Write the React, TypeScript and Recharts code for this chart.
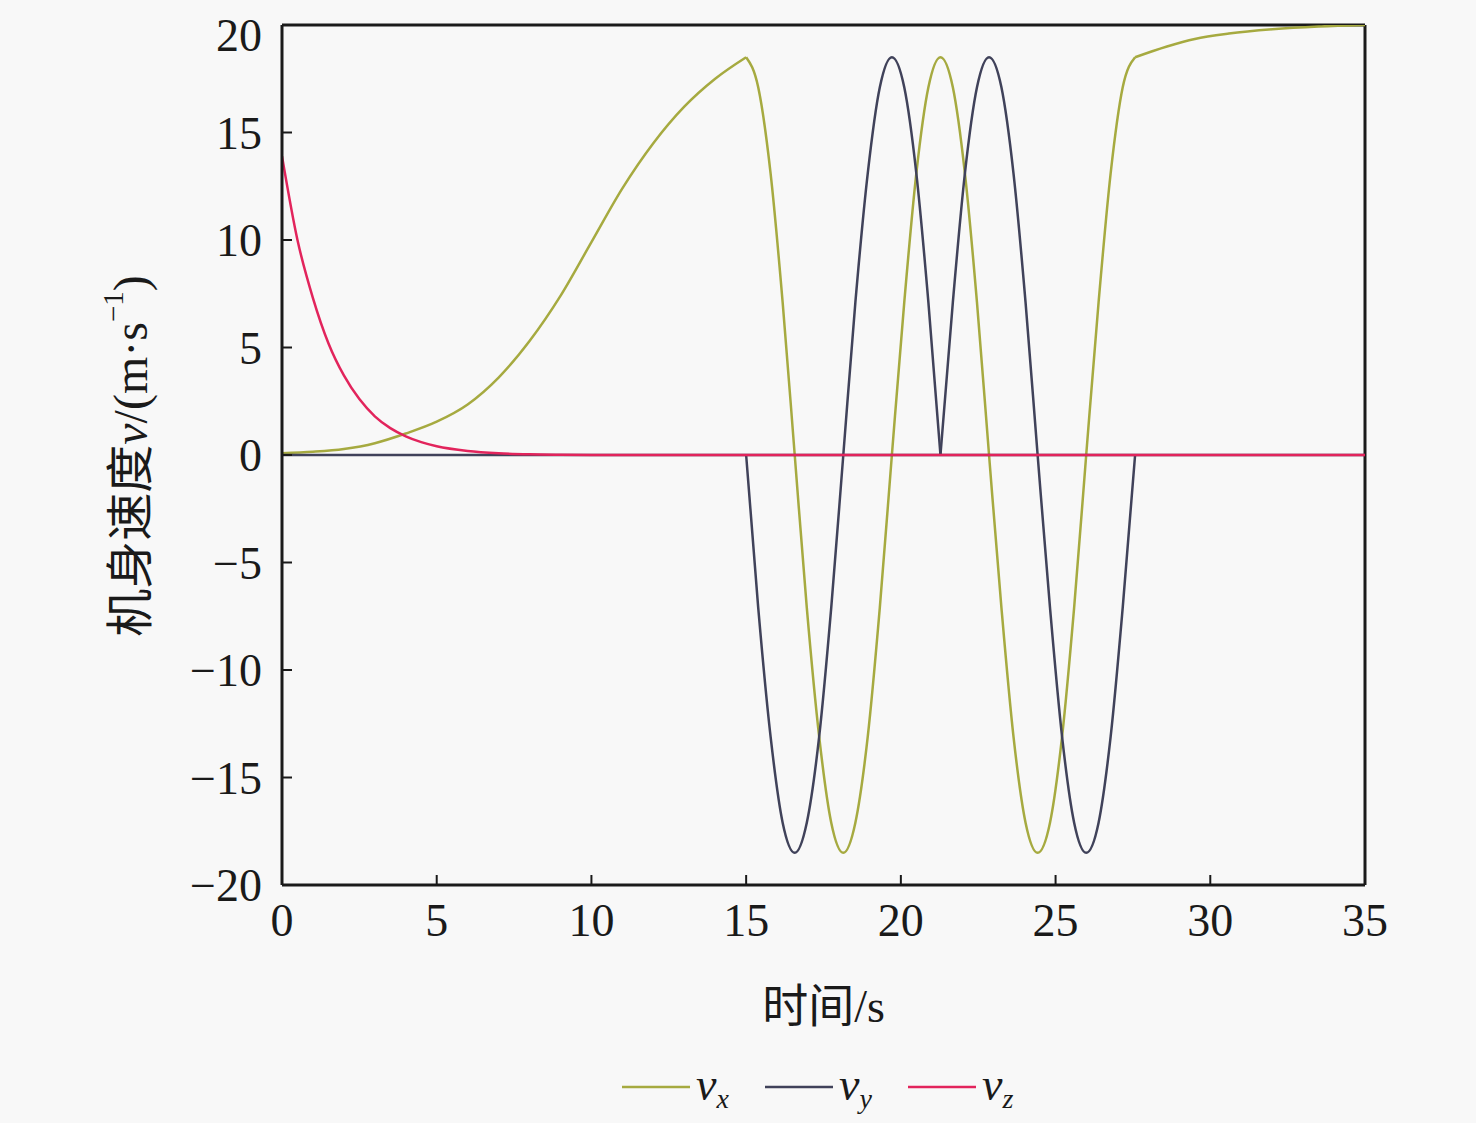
import React from "react";
import { LineChart, Line, XAxis, YAxis, ReferenceLine } from "recharts";

// time samples (s) and velocities (m/s)
const tRise = [0, 1, 2, 3, 4, 5, 6, 7, 8, 9, 10, 11, 12, 13, 14, 15];
const vxRise = [0.08, 0.15, 0.28, 0.55, 1.0, 1.55, 2.35, 3.6, 5.3, 7.4, 9.9, 12.4, 14.5, 16.2, 17.5, 18.5];

const tOsc = [
  15, 15.39, 15.79, 16.18, 16.57, 16.96, 17.36, 17.75, 18.14, 18.53, 18.93, 19.32, 19.71, 20.11, 20.5, 20.89,
  21.28, 21.68, 22.07, 22.46, 22.85, 23.25, 23.64, 24.03, 24.42, 24.82, 25.21, 25.6, 25.99, 26.39, 26.78, 27.17,
  27.57,
];
const vxOsc = [
  18.5, 17.1, 13.1, 7.1, 0, -7.1, -13.1, -17.1, -18.5, -17.1, -13.1, -7.1, 0, 7.1, 13.1, 17.1,
  18.5, 17.1, 13.1, 7.1, 0, -7.1, -13.1, -17.1, -18.5, -17.1, -13.1, -7.1, 0, 7.1, 13.1, 17.1,
  18.5,
];
const vyOsc = [
  0, -7.1, -13.1, -17.1, -18.5, -17.1, -13.1, -7.1, 0, 7.1, 13.1, 17.1, 18.5, 17.1, 13.1, 7.1,
  0, 7.1, 13.1, 17.1, 18.5, 17.1, 13.1, 7.1, 0, -7.1, -13.1, -17.1, -18.5, -17.1, -13.1, -7.1,
  0,
];

const tTail = [27.57, 28.6, 29.5, 30.6, 32, 33.5, 35];
const vxTail = [18.5, 19.0, 19.35, 19.6, 19.8, 19.93, 20];

const tFlat = [0, 15, 27.57, 35];
const vyFlat = [0, 0, 0, 0];

const tZ = [0, 0.5, 1, 1.5, 2, 2.5, 3, 3.5, 4, 4.5, 5, 6, 7, 8, 9, 10, 35];
const vzDecay = [13.9, 10.0, 7.3, 5.2, 3.7, 2.6, 1.8, 1.25, 0.87, 0.6, 0.41, 0.19, 0.08, 0.03, 0.01, 0, 0];

const xTicks = [0, 5, 10, 15, 20, 25, 30, 35];
const yTicks = [-20, -15, -10, -5, 0, 5, 10, 15, 20];

const zip = (ts: number[], vs: number[]) => ts.map((t, i) => ({ t, v: vs[i] }));

const COLORS = { vx: "#a6aa40", vy: "#40425a", vz: "#e2245c" };
const SERIF = "'Liberation Serif', 'Times New Roman', 'Noto Sans CJK SC', serif";
const AXIS = "#1a1a1a";

const fmtY = (v: number) => (v < 0 ? "\u2212" + Math.abs(v) : String(v));

const YTitle = () => (
  <text
    x={122}
    y={448}
    transform="rotate(-90 122 448)"
    textAnchor="middle"
    dominantBaseline="central"
    fontFamily={SERIF}
    fontSize={48}
    fill="#1a1a1a"
  >
    机身速度<tspan fontStyle="italic">v</tspan>/(m·s
    <tspan dy={-17} fontSize={29}>−1</tspan>
    <tspan dy={17}>)</tspan>
  </text>
);

const XTitle = ({ viewBox }: any) => (
  <text
    x={viewBox.x + viewBox.width / 2}
    y={1014}
    textAnchor="middle"
    fontFamily={SERIF}
    fontSize={46}
    fill="#1a1a1a"
  >
    时间/s
  </text>
);

const legendItems = [
  { sub: "x", color: COLORS.vx },
  { sub: "y", color: COLORS.vy },
  { sub: "z", color: COLORS.vz },
];

export default function App() {
  const tick = { fill: "#1a1a1a", fontSize: 46, fontFamily: SERIF };
  return (
    <div style={{ position: "absolute", left: 0, top: 0, width: 1476, height: 1123, background: "#f8f8f8" }}>
      <div style={{ position: "absolute", left: 8, top: 8 }}>
        <LineChart width={1460} height={1107} margin={{ top: 17, right: 103, bottom: 0, left: 0 }}>
          <XAxis
            type="number"
            dataKey="t"
            domain={[0, 35]}
            ticks={xTicks}
            allowDataOverflow
            height={230}
            tick={tick}
            tickSize={-10}
            tickMargin={28}
            axisLine={{ stroke: AXIS, strokeWidth: 3 }}
            tickLine={{ stroke: AXIS, strokeWidth: 2 }}
            label={{ content: XTitle }}
          />
          <YAxis
            type="number"
            dataKey="v"
            domain={[-20, 20]}
            ticks={yTicks}
            allowDataOverflow
            width={274}
            tick={tick}
            tickSize={-10}
            tickMargin={30}
            tickFormatter={fmtY}
            axisLine={{ stroke: AXIS, strokeWidth: 3 }}
            tickLine={{ stroke: AXIS, strokeWidth: 2 }}
            label={{ content: YTitle }}
          />
          <ReferenceLine y={20} stroke={AXIS} strokeWidth={3} />
          <ReferenceLine x={35} stroke={AXIS} strokeWidth={3} />

          <Line data={zip(tRise, vxRise)} dataKey="v" type="monotone" stroke={COLORS.vx} strokeWidth={2.5} dot={false} isAnimationActive={false} />
          <Line data={zip(tOsc, vxOsc)} dataKey="v" type="monotone" stroke={COLORS.vx} strokeWidth={2.5} dot={false} isAnimationActive={false} />
          <Line data={zip(tTail, vxTail)} dataKey="v" type="monotone" stroke={COLORS.vx} strokeWidth={2.5} dot={false} isAnimationActive={false} />

          <Line data={zip(tFlat, vyFlat)} dataKey="v" type="linear" stroke={COLORS.vy} strokeWidth={2.5} dot={false} isAnimationActive={false} />
          <Line data={zip(tOsc.slice(0, 17), vyOsc.slice(0, 17))} dataKey="v" type="monotone" stroke={COLORS.vy} strokeWidth={2.5} dot={false} isAnimationActive={false} />
          <Line data={zip(tOsc.slice(16), vyOsc.slice(16))} dataKey="v" type="monotone" stroke={COLORS.vy} strokeWidth={2.5} dot={false} isAnimationActive={false} />

          <Line data={zip(tZ, vzDecay)} dataKey="v" type="monotone" stroke={COLORS.vz} strokeWidth={2.5} dot={false} isAnimationActive={false} />
        </LineChart>
        <div style={{ position: "absolute", left: 614, top: 1050, display: "flex", alignItems: "center", fontFamily: SERIF }}>
          {legendItems.map((it) => (
            <div key={it.sub} style={{ display: "flex", alignItems: "center", width: 143 }}>
              <svg width={68} height={10}>
                <line x1={0} y1={5} x2={68} y2={5} stroke={it.color} strokeWidth={2.5} />
              </svg>
              <span style={{ fontStyle: "italic", fontSize: 46, marginLeft: 6, color: "#1a1a1a" }}>
                v<sub style={{ fontSize: 28, verticalAlign: "-8px" }}>{it.sub}</sub>
              </span>
            </div>
          ))}
        </div>
      </div>
    </div>
  );
}
